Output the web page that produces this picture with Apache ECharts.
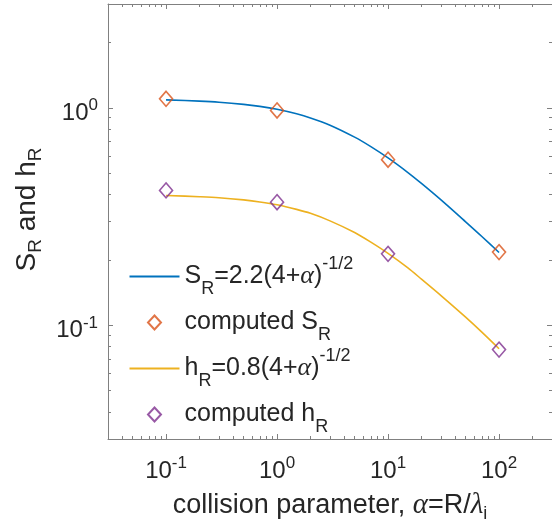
<!DOCTYPE html>
<html><head><meta charset="utf-8">
<script src="https://cdn.jsdelivr.net/npm/echarts@6/dist/echarts.min.js"></script>
<style>html,body{margin:0;padding:0;background:#fff}#c{width:552px;height:529px}</style>
</head><body><div id="c"></div>
<script>
// ---- data ----
const alphaFit = [0.1, 0.2, 0.3, 0.5, 0.7, 1, 1.5, 2, 3, 5, 7, 10, 15, 20, 30, 50, 70, 100];
const sFit = [1.087, 1.073, 1.061, 1.037, 1.015, 0.984, 0.938, 0.898, 0.832, 0.733, 0.663, 0.588, 0.505, 0.449, 0.377, 0.299, 0.256, 0.216];
const hFit = [0.395, 0.390, 0.386, 0.377, 0.369, 0.358, 0.341, 0.327, 0.302, 0.267, 0.241, 0.214, 0.184, 0.163, 0.137, 0.109, 0.093, 0.078];
const alphaComp = [0.1, 1, 10, 100];
const sComp = [1.10, 0.972, 0.577, 0.217];
const hComp = [0.417, 0.368, 0.213, 0.0773];
const xMajor = [0.1, 1, 10, 100];
const xMinor = [0.03,0.04,0.05,0.06,0.07,0.08,0.09, 0.2,0.3,0.4,0.5,0.6,0.7,0.8,0.9, 2,3,4,5,6,7,8,9, 20,30,40,50,60,70,80,90, 200,300];
const yMajor = [0.1, 1];
const yMinor = [0.03,0.04,0.05,0.06,0.07,0.08,0.09, 0.2,0.3,0.4,0.5,0.6,0.7,0.8,0.9, 2,3];
const seriesNames = ['sfit', 'scomp', 'hfit', 'hcomp'];
const legendLabels = {
  sfit: 'S{sub|R}=2.2(4+{it|α}){sup|-1/2}',
  scomp: 'computed S{sub|R}',
  hfit: 'h{sub|R}=0.8(4+{it|α}){sup|-1/2}',
  hcomp: 'computed h{sub|R}'
};
const xName = 'collision parameter, {it|α}=R/{it|λ}{sub|i}';
const yName = 'S{sub|R} and h{sub|R}';

// ---- styling ----
const FONT = 'Liberation Sans, Arial, Helvetica, sans-serif';
const SERIF = 'Liberation Serif, DejaVu Serif, serif';
const TXT = '#262626';
const AX = '#808080';
const C = {blue:'#0072BD', orange:'#D95319', yellow:'#EDB120', purple:'#7E2F8E'};
const XMIN = 0.03, XMAX = 300, YMIN = 0.03, YMAX = 3;
const DIAMOND_ICON = 'path://M0,0M50,14M25,0L31.5,7L25,14L18.5,7Z';

function pow10Label(v) {
  const e = Math.log10(v);
  if (Math.abs(e - Math.round(e)) > 1e-6) return '';
  return '{b|10}{s|' + Math.round(e) + '}';
}
const tickRich = {
  b: {fontSize: 24, lineHeight: 32, fontFamily: FONT, color: TXT},
  s: {fontSize: 17, lineHeight: 17, verticalAlign: 'top', fontFamily: FONT, color: TXT}
};
function pairZip(xs, ys) { return xs.map((x, i) => [x, ys[i]]); }

function xAx(pos, minor, main) {
  return {
    type: 'log', logBase: 10, min: XMIN, max: XMAX, position: pos,
    axisLine: {show: !minor, lineStyle: {color: AX, width: 1}},
    axisTick: {show: true, inside: true, length: minor ? 3 : 5, customValues: minor ? xMinor : xMajor, lineStyle: {color: AX, width: 1}},
    minorTick: {show: false},
    splitLine: {show: false},
    axisLabel: main ? {show: true, customValues: xMajor, margin: 16, formatter: pow10Label, rich: tickRich} : {show: false},
    name: main ? xName : '',
    nameLocation: 'middle', nameGap: 44,
    nameTextStyle: {fontSize: 27, fontFamily: FONT, color: TXT, lineHeight: 35,
      rich: {
        it: {fontSize: 29, fontFamily: SERIF, fontStyle: 'italic', color: TXT, lineHeight: 35},
        sub: {fontSize: 18, fontFamily: FONT, color: TXT, lineHeight: 18, verticalAlign: 'bottom'}
      }},
    silent: true
  };
}
function yAx(pos, minor, main) {
  return {
    type: 'log', logBase: 10, min: YMIN, max: YMAX, position: pos,
    axisLine: {show: !minor, lineStyle: {color: AX, width: 1}},
    axisTick: {show: true, inside: true, length: minor ? 3 : 5, customValues: minor ? yMinor : yMajor, lineStyle: {color: AX, width: 1}},
    minorTick: {show: false},
    splitLine: {show: false},
    axisLabel: main ? {show: true, customValues: yMajor, margin: 10, padding: [11, 0, 0, 0], formatter: pow10Label, rich: tickRich} : {show: false},
    name: main ? yName : '',
    nameLocation: 'middle', nameGap: 62, nameRotate: 90,
    nameTextStyle: {fontSize: 28, fontFamily: FONT, color: TXT, lineHeight: 36, padding: [0, 0, 0, 24],
      rich: {
        sub: {fontSize: 19, fontFamily: FONT, color: TXT, lineHeight: 19, verticalAlign: 'bottom'}
      }},
    silent: true
  };
}

const chart = echarts.init(document.getElementById('c'), null, {renderer: 'canvas'});
chart.setOption({
  animation: false,
  backgroundColor: '#fff',
  grid: {left: 108, top: 4, right: -3, bottom: 90, containLabel: false},
  xAxis: [xAx('bottom', false, true), xAx('top', false, false), xAx('bottom', true, false), xAx('top', true, false)],
  yAxis: [yAx('left', false, true), yAx('right', false, false), yAx('left', true, false), yAx('right', true, false)],
  legend: {
    orient: 'vertical', left: 127, top: 255, padding: 0,
    itemWidth: 50, itemHeight: 14, itemGap: 3,
    data: [
      {name: 'sfit', itemStyle: {opacity: 0, color: 'rgba(0,0,0,0)', borderColor: 'rgba(0,0,0,0)', borderWidth: 0}},
      {name: 'scomp', icon: DIAMOND_ICON},
      {name: 'hfit', itemStyle: {opacity: 0, color: 'rgba(0,0,0,0)', borderColor: 'rgba(0,0,0,0)', borderWidth: 0}},
      {name: 'hcomp', icon: DIAMOND_ICON}
    ],
    formatter: n => legendLabels[n],
    textStyle: {fontSize: 25, fontFamily: FONT, color: TXT, lineHeight: 43,
      rich: {
        it: {fontSize: 26, fontFamily: SERIF, fontStyle: 'italic', color: TXT, lineHeight: 43},
        sub: {fontSize: 18, fontFamily: FONT, color: TXT, lineHeight: 17, verticalAlign: 'bottom'},
        sup: {fontSize: 18, fontFamily: FONT, color: TXT, lineHeight: 23, verticalAlign: 'top'}
      }},
    selectedMode: false
  },
  series: [
    {name: 'sfit', type: 'line', xAxisIndex: 0, yAxisIndex: 0, data: pairZip(alphaFit, sFit), smooth: 0.3,
     symbol: 'none', lineStyle: {color: C.blue, width: 1.6}, itemStyle: {color: C.blue}, z: 2},
    {name: 'scomp', type: 'scatter', xAxisIndex: 0, yAxisIndex: 0, data: pairZip(alphaComp, sComp),
     symbol: 'diamond', symbolSize: [13, 15],
     itemStyle: {color: 'none', borderColor: C.orange, borderWidth: 1.6}, z: 3},
    {name: 'hfit', type: 'line', xAxisIndex: 0, yAxisIndex: 0, data: pairZip(alphaFit, hFit), smooth: 0.3,
     symbol: 'none', lineStyle: {color: C.yellow, width: 1.6}, itemStyle: {color: C.yellow}, z: 2},
    {name: 'hcomp', type: 'scatter', xAxisIndex: 0, yAxisIndex: 0, data: pairZip(alphaComp, hComp),
     symbol: 'diamond', symbolSize: [13, 15],
     itemStyle: {color: 'none', borderColor: C.purple, borderWidth: 1.6}, z: 3}
  ]
});
</script></body></html>
